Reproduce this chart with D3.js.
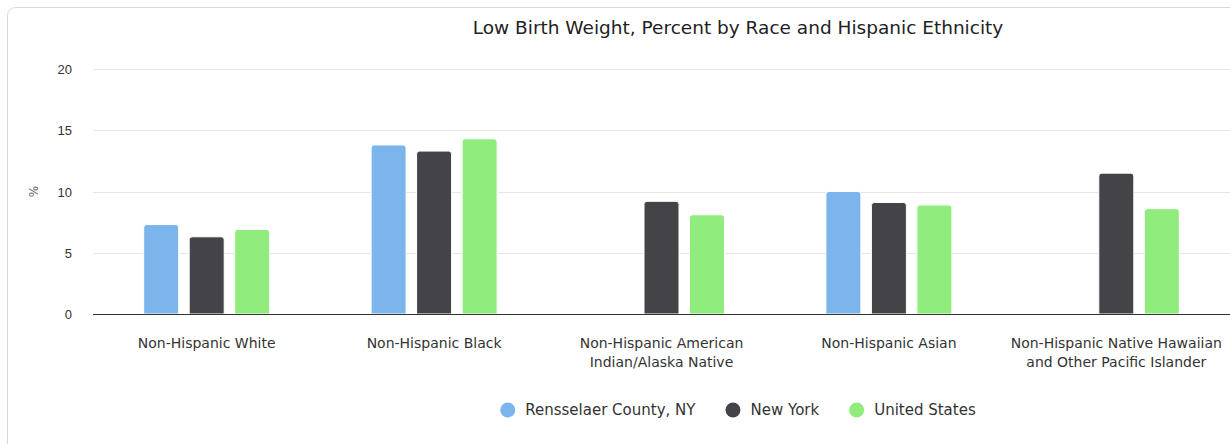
<!DOCTYPE html>
<html>
  <head>
    <meta charset="UTF-8">
    <title>Low Birth Weight, Percent by Race and Hispanic Ethnicity</title>
    <script src="https://d3js.org/d3.v7.min.js"></script>
    <style>
      body { margin: 0; background: #fff; }
      svg { display: block; font-family: "DejaVu Sans", Verdana, sans-serif; }
      .grid line { stroke: #e6e6e6; }
      .tick text { fill: #333; font-size: 13px; }
      .legend text { fill: #333; font-size: 15px; }
    </style>
  </head>
  <body>
    <div id="chart"></div>
    <script>
      // data
      const categories = [
        ["Non-Hispanic White"],
        ["Non-Hispanic Black"],
        ["Non-Hispanic American", "Indian/Alaska Native"],
        ["Non-Hispanic Asian"],
        ["Non-Hispanic Native Hawaiian", "and Other Pacific Islander"]
      ];
      const seriesNames = ["Rensselaer County, NY", "New York", "United States"];
      const rensselaer = [7.3, 13.8, null, 10.0, null];
      const newYork = [6.3, 13.3, 9.2, 9.1, 11.5];
      const unitedStates = [6.9, 14.3, 8.1, 8.9, 8.6];
      const yTicks = [0, 5, 10, 15, 20];
      const colors = ["#7cb5ec", "#434348", "#90ed7d"];

      const width = 1230;
      const height = 444;
      const plot = { left: 93, right: 1230, top: 69, bottom: 314 };
      const center = 738;

      const svg = d3.select("#chart")
        .append("svg")
        .attr("width", width)
        .attr("height", height);

      // container frame
      svg.append("rect")
        .attr("x", 7.5).attr("y", 7.5)
        .attr("width", 1500).attr("height", 600)
        .attr("rx", 8)
        .attr("fill", "#fff")
        .attr("stroke", "#d8d8d8");

      svg.append("text")
        .attr("x", center).attr("y", 34)
        .attr("text-anchor", "middle")
        .attr("fill", "#222")
        .style("font-size", "18.5px")
        .text("Low Birth Weight, Percent by Race and Hispanic Ethnicity");

      const catKeys = categories.map(c => c.join(" "));
      const x0 = d3.scaleBand()
        .domain(catKeys)
        .range([plot.left, plot.right]);

      const x1 = d3.scaleBand()
        .domain(seriesNames)
        .range([0, x0.bandwidth()])
        .paddingInner(0.231)
        .paddingOuter(1.114);

      const y = d3.scaleLinear()
        .domain([0, 20])
        .range([plot.bottom, plot.top]);

      // grid
      svg.append("g")
        .attr("class", "grid")
        .selectAll("line")
        .data(yTicks.filter(d => d > 0))
        .join("line")
        .attr("x1", plot.left).attr("x2", plot.right)
        .attr("y1", d => Math.round(y(d)) + 0.5)
        .attr("y2", d => Math.round(y(d)) + 0.5);

      const yAxis = svg.append("g")
        .attr("transform", `translate(${plot.left - 21},0)`)
        .call(d3.axisLeft(y).tickValues(yTicks).tickSize(0).tickPadding(0));
      yAxis.select(".domain").remove();
      yAxis.selectAll("text").attr("dy", "0.35em");

      svg.append("text")
        .attr("transform", `translate(38,${y(10)}) rotate(-90)`)
        .attr("text-anchor", "middle")
        .attr("fill", "#666")
        .style("font-size", "12px")
        .text("%");

      // bars
      const values = [rensselaer, newYork, unitedStates];
      const bars = [];
      values.forEach((arr, s) => arr.forEach((v, i) => {
        if (v != null) bars.push({ cat: catKeys[i], series: seriesNames[s], value: v, color: colors[s] });
      }));

      function barPath(d) {
        const bx = x0(d.cat) + x1(d.series);
        const bw = x1.bandwidth();
        const top = y(d.value);
        const bottom = y(0);
        const r = 3;
        return `M${bx},${bottom} L${bx},${top + r} Q${bx},${top} ${bx + r},${top}
                L${bx + bw - r},${top} Q${bx + bw},${top} ${bx + bw},${top + r}
                L${bx + bw},${bottom} Z`;
      }

      svg.append("g")
        .selectAll("path")
        .data(bars)
        .join("path")
        .attr("d", barPath)
        .attr("fill", d => d.color)
        .attr("stroke", "#fff")
        .attr("stroke-width", 1);

      // x axis
      svg.append("line")
        .attr("x1", plot.left).attr("x2", plot.right)
        .attr("y1", plot.bottom + 0.5).attr("y2", plot.bottom + 0.5)
        .attr("stroke", "#333");

      const xLabels = svg.append("g")
        .selectAll("text")
        .data(categories)
        .join("text")
        .attr("x", (d, i) => x0(catKeys[i]) + x0.bandwidth() / 2)
        .attr("y", 348)
        .attr("text-anchor", "middle")
        .attr("fill", "#333")
        .style("font-size", "14px");
      xLabels.selectAll("tspan")
        .data(d => d)
        .join("tspan")
        .attr("x", function () { return this.parentNode.getAttribute("x"); })
        .attr("dy", (d, i) => i === 0 ? 0 : 19)
        .text(d => d);

      // legend
      const legend = svg.append("g").attr("class", "legend");
      const items = legend.selectAll("g")
        .data(seriesNames)
        .join("g");
      items.append("circle")
        .attr("r", 7.5)
        .attr("cx", 7.5)
        .attr("cy", 0)
        .attr("fill", (d, i) => colors[i]);
      items.append("text")
        .attr("x", 25)
        .attr("dy", "0.35em")
        .text(d => d);

      const gap = 30;
      let cursor = 0;
      items.each(function () {
        const w = this.querySelector("text").getComputedTextLength() + 25;
        d3.select(this).attr("data-x", cursor);
        cursor += w + gap;
      });
      const total = cursor - gap;
      const start = center - total / 2;
      items.attr("transform", function () {
        return `translate(${start + +this.getAttribute("data-x")},410)`;
      });
    </script>
  </body>
</html>
